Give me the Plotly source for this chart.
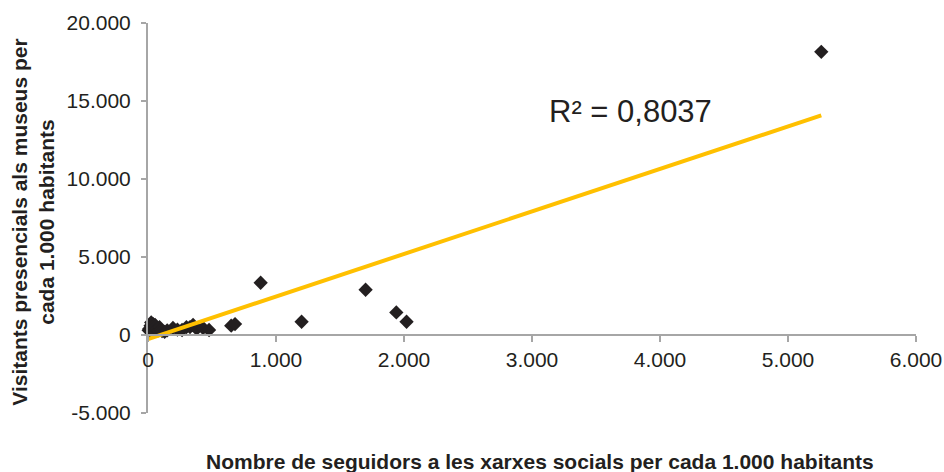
import numpy as np
import plotly.graph_objects as go

# Followers on social networks per 1,000 inhabitants
followers = [5, 10, 15, 20, 25, 30, 35, 40, 45, 50, 55, 60, 70, 80, 90, 100, 110, 130, 150,
             195, 230, 266, 300, 328, 352, 380, 430, 477,
             650, 680, 880, 1200, 1700, 1940, 2020, 5260]
# In-person museum visitors per 1,000 inhabitants
visitors = [300, 400, 250, 600, 800, 350, 500, 700, 300, 450, 650, 550, 400, 300, 500, 350, 250, 200, 300,
            450, 350, 320, 500, 510, 640, 400, 450, 320,
            600, 700, 3350, 850, 2900, 1450, 850, 18150]

x_ticks = [0, 1000, 2000, 3000, 4000, 5000, 6000]
x_tick_labels = ["0", "1.000", "2.000", "3.000", "4.000", "5.000", "6.000"]
y_ticks = [-5000, 0, 5000, 10000, 15000, 20000]
y_tick_labels = ["-5.000", "0", "5.000", "10.000", "15.000", "20.000"]

r2_label = "R² = 0,8037"
x_title = "Nombre de seguidors a les xarxes socials per cada 1.000 habitants"
y_title = "Visitants presencials als museus per<br>cada 1.000 habitants"

xa = np.array(followers, dtype=float)
ya = np.array(visitors, dtype=float)
slope, intercept = np.polyfit(xa, ya, 1)
trend_x = [0, max(followers)]
trend_y = [intercept + slope * v for v in trend_x]

fig = go.Figure()
fig.add_trace(go.Scatter(
    x=followers, y=visitors, mode="markers",
    marker=dict(symbol="diamond", size=11, color="#231F20"),
    showlegend=False, hoverinfo="x+y", cliponaxis=False))
fig.add_trace(go.Scatter(
    x=trend_x, y=trend_y, mode="lines",
    line=dict(color="#FFC000", width=4),
    showlegend=False, hoverinfo="skip"))

font_family = "Liberation Sans, Arial, sans-serif"
axis_color = "#A6A6A6"

fig.update_layout(
    width=944, height=472,
    margin=dict(l=148, r=28, t=23, b=59),
    paper_bgcolor="white", plot_bgcolor="white",
    font=dict(family=font_family, size=21, color="#231F20"),
    xaxis=dict(
        range=[0, 6000], tickvals=x_ticks, ticktext=x_tick_labels,
        showgrid=False, zeroline=False, showline=True, linecolor=axis_color, linewidth=2,
        ticks="outside", ticklen=6, tickwidth=2, tickcolor=axis_color,
        anchor="free", position=0.2, automargin=False,
        tickfont=dict(size=21, color="#231F20")),
    yaxis=dict(
        range=[-5000, 20000], tickvals=y_ticks, ticktext=y_tick_labels,
        domain=[0, 1], automargin=False,
        showgrid=False, zeroline=False, showline=True, linecolor=axis_color, linewidth=2,
        ticks="outside", ticklen=5, tickwidth=2, tickcolor=axis_color,
        ticklabelstandoff=6,
        tickfont=dict(size=21, color="#231F20")),
    annotations=[
        dict(text=r2_label, xref="paper", yref="paper", x=0.628, y=0.772,
             xanchor="center", yanchor="middle", showarrow=False,
             font=dict(size=31, color="#231F20")),
        dict(text="<b>" + x_title + "</b>", xref="paper", yref="paper",
             x=0.51, y=-0.124, xanchor="center", yanchor="middle", showarrow=False,
             font=dict(size=21, color="#231F20")),
        dict(text="<b>" + y_title + "</b>", xref="paper", yref="paper",
             x=-0.15, y=0.49, xanchor="center", yanchor="middle", showarrow=False,
             textangle=-90, font=dict(size=21, color="#231F20")),
    ],
)

fig.write_html("out.html", config={"displayModeBar": False},
               post_script="document.body.style.margin='0';document.body.style.overflow='hidden';")
